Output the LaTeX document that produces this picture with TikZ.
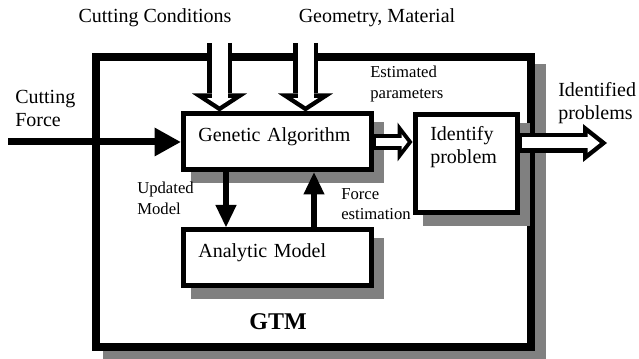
\documentclass[tikz,border=0pt]{standalone}
\usepackage{fontspec}
\setmainfont{Liberation Serif}
\usepackage{tikz}
\usetikzlibrary{arrows.meta, positioning, shadows, calc}

\definecolor{shadowgray}{gray}{0.5}

\newcommand{\bigtext}{\fontsize{15pt}{17pt}\selectfont}
\newcommand{\smalltext}{\fontsize{12.5pt}{15.5pt}\selectfont}

\begin{document}
\begin{tikzpicture}[x=0.75pt, y=-0.75pt, on grid,
    boxshadow/.style={drop shadow={shadow xshift=8pt, shadow yshift=-8pt,
        fill=shadowgray, draw=shadowgray, opacity=1}},
    frame/.style={draw, fill=white, line width=6pt, boxshadow},
    block/.style={draw, fill=white, line width=3.75pt, boxshadow,
        inner xsep=11.5pt, align=left, font=\bigtext},
    note/.style={inner sep=0pt, align=left, anchor=west},
    flow/.style={line width=4.5pt, -{Triangle[width=16pt, length=16.5pt, line width=0pt]}},
    hollow/.style n args={3}{draw=black, line width=#1,
        -{Triangle[width=#2, length=#3, line width=0pt]}},
    hollow inside/.style n args={4}{draw=white, line width=#1, shorten >=#4,
        -{Triangle[width=#2, length=#3, line width=0pt]}}]
  \useasboundingbox (0,0) rectangle (639,359);

  % GTM frame
  \node[frame, minimum width=326.25pt, minimum height=217.5pt] (gtm) at (313.5,202) {};
  \node[font=\fontsize{18pt}{20pt}\selectfont\bfseries] (gtmname) at (278,322) {GTM};

  % blocks
  \node[block, minimum width=141pt, minimum height=42pt, text width=118pt,
        text depth=11pt] (ga) at (277,142) {Genetic Algorithm};
  \node[block, minimum width=141pt, minimum height=42pt, text width=118pt,
        text depth=11pt, below=86.6pt of ga] (am) {Analytic Model};
  \node[block, minimum width=76.5pt, minimum height=73.5pt, text width=53.5pt,
        inner ysep=6pt, text height=13.5pt, text depth=48pt,
        below right=16.5pt and 141.75pt of ga] (ip) {Identify\\problem};

  % labels
  \node[font=\bigtext] (cclabel) at (155,18) {Cutting Conditions};
  \node[font=\bigtext] (gmlabel) at (377,18) {Geometry, Material};
  \node[note, font=\bigtext] (cflabel) at (15,108.5) {Cutting\\Force};
  \node[note, font=\smalltext] (eplabel) at (370,84) {Estimated\\parameters};
  \node[note, font=\bigtext] (iplabel) at (558,103) {Identified\\problems};
  \node[note, font=\smalltext] (umlabel) at (137,198.5) {Updated\\Model};
  \node[note, font=\smalltext] (felabel) at (341,204) {Force\\estimation};

  % free ends
  \coordinate (cf) at (8,142);
  \coordinate (cc) at (219.5,43);
  \coordinate (gm) at (305.5,43);
  \coordinate (out) at (607,143);
  \coordinate (upd) at ([xshift=-38.25pt]ga.south);
  \coordinate (fest) at ([xshift=27.75pt]am.north);

  % inputs
  \draw[line width=5.25pt, -{Triangle[width=21.75pt, length=19.5pt, line width=0pt]}] (cf) -- (ga.west);
  \draw[hollow={18.75pt}{41.25pt}{13.5pt}] (cc) -- (cc |- ga.north);
  \draw[hollow inside={12pt}{18.5pt}{6pt}{4pt}] (cc) -- (cc |- ga.north);
  \draw[hollow={18.75pt}{41.25pt}{13.5pt}] (gm) -- (gm |- ga.north);
  \draw[hollow inside={12pt}{18.5pt}{6pt}{4pt}] (gm) -- (gm |- ga.north);

  % loop between GA and model
  \draw[flow] (upd) -- (upd |- am.north);
  \draw[flow] (fest) -- (fest |- ga.south);

  % estimated parameters and output
  \draw[hollow={12pt}{29.25pt}{11.25pt}] (ga.east) -- (ga.east -| ip.west);
  \draw[hollow inside={6pt}{11.7pt}{4.5pt}{3.75pt}] ($(ga.east)+(2pt,0)$) -- (ga.east -| ip.west);
  \draw[hollow={15pt}{28.5pt}{18pt}] (ip.east |- out) -- (out);
  \draw[hollow inside={8.25pt}{14.6pt}{9.2pt}{5.4pt}] ($(ip.east |- out)+(2pt,0)$) -- (out);
\end{tikzpicture}
\end{document}
